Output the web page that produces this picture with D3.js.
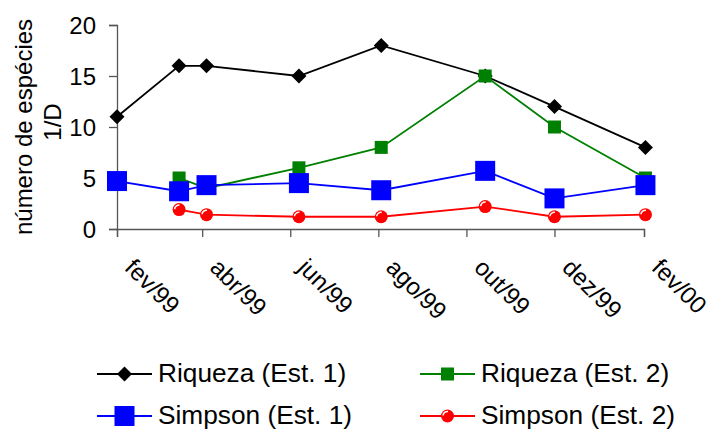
<!DOCTYPE html>
<html>
<head>
<meta charset="utf-8">
<script src="https://cdn.jsdelivr.net/npm/d3@7/dist/d3.min.js"></script>
<style>
  body { margin: 0; background: #fff; }
  text { font-family: "Liberation Sans", Arial, sans-serif; fill: #000; }
</style>
</head>
<body>
<div id="chart"></div>
<script>
// sampling dates
var dates = ["1999-02-01", "1999-03-16", "1999-04-04", "1999-06-07", "1999-08-03", "1999-10-14", "1999-12-01", "2000-02-02"];
// series values (null = no sample)
var riqueza1 = [11, 16, 16, 15, 18, 15, 12, 8];
var riqueza2 = [null, 5, 4, 6, 8, 15, 10, 5];
var simpson1 = [4.7, 3.7, 4.3, 4.5, 3.8, 5.7, 3, 4.3];
var simpson2 = [null, 1.9, 1.4, 1.2, 1.2, 2.2, 1.2, 1.4];
// axis ticks
var tickDates = ["1999-02-01", "1999-04-01", "1999-06-01", "1999-08-01", "1999-10-01", "1999-12-01", "2000-02-01"];
var tickLabels = ["fev/99", "abr/99", "jun/99", "ago/99", "out/99", "dez/99", "fev/00"];
var yTicks = [0, 5, 10, 15, 20];

var parse = d3.timeParse("%Y-%m-%d");

var width = 714, height = 430;
var svg = d3.select("#chart").append("svg")
    .attr("width", width)
    .attr("height", height);

var x = d3.scaleTime()
    .domain([parse("1999-02-01"), parse("2000-02-01")])
    .range([117, 644]);
var y = d3.scaleLinear()
    .domain([0, 20])
    .range([229, 25]);

// y axis
var yAxis = svg.append("g")
    .attr("transform", "translate(117,0)")
    .call(d3.axisLeft(y).tickValues(yTicks).tickSize(8).tickPadding(13));
yAxis.select(".domain").attr("stroke", "#555").attr("stroke-width", 1.3);
yAxis.selectAll(".tick line").attr("stroke", "#555").attr("stroke-width", 1.3);
yAxis.selectAll(".tick text").style("font-size", "24px").attr("fill", "#000").attr("dy", "0.36em");

// x axis
var xAxis = svg.append("g")
    .attr("transform", "translate(0,229)")
    .call(d3.axisBottom(x).tickValues(tickDates.map(parse)).tickSize(8)
      .tickFormat(function(d, i) { return tickLabels[i]; }));
xAxis.select(".domain").attr("stroke", "#555").attr("stroke-width", 1.3);
xAxis.selectAll(".tick line").attr("stroke", "#555").attr("stroke-width", 1.3);
xAxis.selectAll(".tick text")
    .style("font-size", "24px")
    .attr("fill", "#000")
    .attr("text-anchor", "start")
    .attr("x", 0).attr("y", 0).attr("dy", 0)
    .attr("transform", "translate(6,40) rotate(45)");

// y label
svg.append("text")
    .attr("transform", "translate(32,127) rotate(-90)")
    .attr("text-anchor", "middle")
    .style("font-size", "24px")
    .text("número de espécies");
svg.append("text")
    .attr("transform", "translate(61,122) rotate(-90)")
    .attr("text-anchor", "middle")
    .style("font-size", "24px")
    .text("1/D");

var series = [
  {name: "Riqueza (Est. 1)", values: riqueza1, color: "#000000", marker: "diamond"},
  {name: "Riqueza (Est. 2)", values: riqueza2, color: "#008000", marker: "square-small"},
  {name: "Simpson (Est. 1)", values: simpson1, color: "#0000ff", marker: "square-big"},
  {name: "Simpson (Est. 2)", values: simpson2, color: "#ff0000", marker: "circle"}
];

function drawMarker(g, s) {
  if (s.marker == "diamond") {
    g.append("path").attr("d", "M0,-7.5L7.5,0L0,7.5L-7.5,0Z").attr("fill", s.color);
  } else if (s.marker == "square-small") {
    g.append("rect").attr("x", -6.5).attr("y", -6.5).attr("width", 13).attr("height", 13).attr("fill", s.color);
  } else if (s.marker == "square-big") {
    g.append("rect").attr("x", -10).attr("y", -10).attr("width", 20).attr("height", 20).attr("fill", s.color);
  } else {
    g.append("circle").attr("r", 6.5).attr("fill", s.color);
    g.append("path").attr("d", "M-4.5,-0.5A4.5,4.5 0 0 1 0.5,-4.5")
      .attr("fill", "none").attr("stroke", "#fff").attr("stroke-width", 1.5);
  }
}

var line = d3.line()
    .defined(function(d) { return d.v != null; })
    .x(function(d) { return x(d.date); })
    .y(function(d) { return y(d.v); });

series.forEach(function(s) {
  var pts = dates.map(function(d, i) { return {date: parse(d), v: s.values[i]}; });
  svg.append("path")
      .datum(pts)
      .attr("fill", "none")
      .attr("stroke", s.color)
      .attr("stroke-width", 1.8)
      .attr("d", line);
  pts.filter(function(p) { return p.v != null; }).forEach(function(p) {
    var g = svg.append("g").attr("transform", "translate(" + x(p.date) + "," + y(p.v) + ")");
    drawMarker(g, s);
  });
});

// legend
var legendPos = [[97, 374], [420, 374], [97, 416], [420, 416]];
series.forEach(function(s, i) {
  var lx = legendPos[i][0], ly = legendPos[i][1];
  var g = svg.append("g").attr("transform", "translate(" + lx + "," + ly + ")");
  g.append("line").attr("x1", 0).attr("x2", 55).attr("y1", 0).attr("y2", 0)
    .attr("stroke", s.color).attr("stroke-width", 1.8);
  var m = g.append("g").attr("transform", "translate(27.5,0)");
  drawMarker(m, s);
  g.append("text").attr("transform", "translate(61,8) scale(1.05,1)")
    .style("font-size", "25px").text(s.name);
});
</script>
</body>
</html>
